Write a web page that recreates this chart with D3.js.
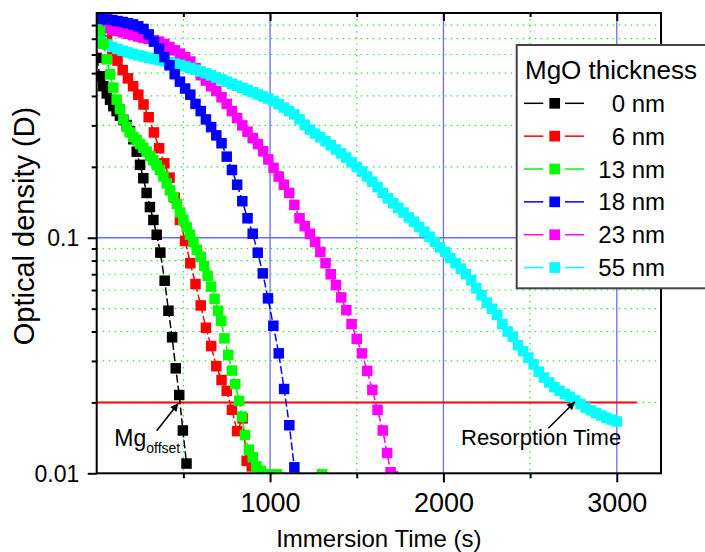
<!DOCTYPE html>
<html><head><meta charset="utf-8">
<script src="https://cdn.jsdelivr.net/npm/d3@7"></script>
<style>body{margin:0;background:#fff}svg{display:block}</style>
</head><body><svg id="c" width="705" height="552"></svg>
<script>
// ---------- data ----------
const timeTicks = [1000, 2000, 3000];
const timeMinor = [500, 1500, 2500];
const odTicks = [0.01, 0.1];
const odTickLabels = ["0.01", "0.1"];
const odMinor = [0.02, 0.03, 0.04, 0.05, 0.06, 0.07, 0.08, 0.09, 0.2, 0.3, 0.4, 0.5, 0.6, 0.7, 0.8];
const seriesLabels = ["0 nm", "6 nm", "13 nm", "18 nm", "23 nm", "55 nm"];
const seriesColors = ["#000000", "#ff0000", "#00ff00", "#0000ff", "#ff00ff", "#00ffff"];
const resorptionLevel = 0.02;
const resorptionEnd = 3115;

const od0nm = [[0,0.58],[19,0.485],[38,0.44],[58,0.41],[77,0.385],[96,0.362],[115,0.345],[134,0.33],[154,0.316],[173,0.301],[192,0.283],[211,0.262],[231,0.232],[250,0.204],[269,0.179],[288,0.155],[307,0.135],[327,0.119],[346,0.103],[367,0.0865],[392,0.0657],[414,0.049],[435,0.0378],[456,0.0279],[476,0.0215],[497,0.0152],[518,0.011]];

const od6nm = [[0,0.86],[30,0.79],[60,0.69],[90,0.62],[120,0.565],[150,0.515],[180,0.475],[210,0.44],[240,0.405],[270,0.368],[300,0.325],[330,0.28],[360,0.24],[390,0.207],[420,0.18],[450,0.148],[480,0.119],[510,0.097],[540,0.078],[570,0.0636],[600,0.0516],[630,0.0415],[660,0.0347],[690,0.0285],[720,0.0249],[750,0.0224],[780,0.0186],[810,0.0151],[842,0.0171],[865,0.0113],[894,0.0107]];

const od13nm = [[0,0.82],[19,0.75],[38,0.667],[58,0.572],[77,0.494],[96,0.434],[115,0.386],[134,0.352],[154,0.318],[173,0.295],[192,0.28],[211,0.268],[231,0.26],[250,0.25],[269,0.241],[288,0.232],[308,0.222],[327,0.213],[346,0.203],[365,0.194],[385,0.182],[404,0.17],[423,0.159],[442,0.149],[462,0.139],[481,0.128],[500,0.119],[519,0.111],[538,0.103],[558,0.096],[577,0.089],[600,0.083],[620,0.076],[640,0.069],[660,0.062],[680,0.055],[700,0.049],[718,0.0444],[737,0.0374],[759,0.0318],[780,0.0273],[799,0.0239],[822,0.0203],[838,0.0174],[855,0.01455],[878,0.0126],[900,0.0117],[921,0.0107],[946,0.01025],[975,0.0099],[1010,0.0099],[1040,0.0099],[1300,0.0099]];

const od18nm = [[0,0.85],[30,0.85],[60,0.845],[90,0.84],[120,0.832],[150,0.824],[180,0.815],[210,0.805],[240,0.79],[270,0.77],[300,0.73],[330,0.68],[360,0.635],[390,0.585],[420,0.54],[450,0.495],[480,0.46],[510,0.43],[540,0.405],[570,0.37],[600,0.345],[630,0.318],[660,0.295],[690,0.272],[720,0.252],[750,0.221],[780,0.194],[810,0.168],[840,0.143],[870,0.121],[900,0.104],[929,0.0864],[958,0.0706],[988,0.0553],[1019,0.0423],[1050,0.0323],[1081,0.0228],[1111,0.016],[1140,0.0106]];

const od23nm = [[0,0.80],[30,0.79],[60,0.775],[90,0.765],[120,0.755],[150,0.745],[180,0.735],[210,0.725],[240,0.715],[270,0.705],[300,0.70],[330,0.69],[360,0.68],[390,0.665],[420,0.645],[450,0.625],[480,0.605],[510,0.585],[540,0.56],[570,0.525],[600,0.49],[630,0.465],[660,0.44],[690,0.42],[720,0.395],[750,0.37],[780,0.345],[810,0.322],[840,0.30],[870,0.282],[900,0.265],[930,0.25],[960,0.233],[990,0.215],[1020,0.198],[1050,0.182],[1080,0.168],[1110,0.155],[1140,0.138],[1170,0.121],[1200,0.112],[1230,0.104],[1260,0.096],[1290,0.087],[1320,0.078],[1350,0.070],[1380,0.063],[1410,0.0558],[1440,0.0493],[1470,0.043],[1500,0.0372],[1530,0.0323],[1560,0.0272],[1590,0.0226],[1620,0.0186],[1650,0.0152],[1675,0.0122],[1695,0.0101],[1710,0.0097]];

const od55nm = [[0,0.700],[30,0.680],[60,0.662],[90,0.646],[120,0.633],[150,0.622],[180,0.612],[210,0.603],[240,0.595],[270,0.588],[300,0.581],[330,0.574],[360,0.568],[390,0.562],[420,0.556],[450,0.549],[480,0.542],[510,0.534],[540,0.526],[570,0.517],[600,0.508],[630,0.499],[660,0.489],[690,0.479],[720,0.470],[750,0.460],[780,0.451],[810,0.442],[840,0.433],[870,0.424],[900,0.415],[930,0.406],[960,0.398],[990,0.390],[1020,0.380],[1050,0.369],[1080,0.357],[1110,0.345],[1140,0.334],[1170,0.318],[1200,0.302],[1230,0.288],[1260,0.277],[1290,0.267],[1320,0.257],[1350,0.247],[1380,0.237],[1410,0.228],[1440,0.219],[1470,0.209],[1500,0.200],[1530,0.191],[1560,0.182],[1590,0.173],[1620,0.164],[1650,0.155],[1680,0.147],[1710,0.140],[1740,0.134],[1770,0.128],[1800,0.122],[1830,0.117],[1860,0.111],[1890,0.106],[1920,0.101],[1950,0.096],[1980,0.091],[2010,0.087],[2040,0.082],[2070,0.078],[2100,0.074],[2130,0.070],[2160,0.066],[2190,0.061],[2220,0.057],[2250,0.053],[2280,0.050],[2310,0.047],[2340,0.043],[2370,0.040],[2400,0.038],[2430,0.035],[2460,0.033],[2490,0.031],[2520,0.029],[2550,0.027],[2580,0.0255],[2610,0.0243],[2640,0.0232],[2670,0.0224],[2700,0.0217],[2730,0.0211],[2760,0.0204],[2790,0.0197],[2820,0.0190],[2850,0.0185],[2880,0.0180],[2910,0.0176],[2940,0.0172],[2970,0.0169],[3000,0.0166]];

const seriesData = [od0nm, od6nm, od13nm, od18nm, od23nm, od55nm];
const drawOrder = [0, 1, 4, 5, 2, 3];

// ---------- layout ----------
const FONT = "'Liberation Sans', Arial, Helvetica, sans-serif";
const L = 96.7, R = 661, T = 13, B = 473.3;
const svg = d3.select("#c").style("font-family", FONT);
svg.append("rect").attr("width", 705).attr("height", 552).attr("fill", "#fff");

const x = d3.scaleLinear().domain([0, 3255]).range([L, R]);
const y = d3.scaleLog().domain([0.01, 0.9]).range([B, T]);

svg.append("defs").append("clipPath").attr("id", "plotclip")
  .append("rect").attr("x", L).attr("y", T).attr("width", R - L).attr("height", B - T);
const defs = svg.select("defs");
defs.append("marker").attr("id", "arrowhead").attr("viewBox", "0 0 10 10")
  .attr("refX", 10).attr("refY", 5).attr("markerWidth", 11).attr("markerHeight", 8)
  .attr("markerUnits", "userSpaceOnUse").attr("orient", "auto")
  .append("path").attr("d", "M0,0 L10,5 L0,10 Z").attr("fill", "#000");

// ---------- grid ----------
const grid = svg.append("g");
grid.selectAll(".hmin").data(odMinor).join("line")
  .attr("x1", L).attr("x2", R).attr("y1", d => y(d)).attr("y2", d => y(d))
  .attr("stroke", "#33e633").attr("stroke-width", 1.2).attr("stroke-dasharray", "1.5,4.5");
grid.selectAll(".vmin").data(timeMinor).join("line")
  .attr("y1", T).attr("y2", B).attr("x1", d => x(d)).attr("x2", d => x(d))
  .attr("stroke", "#33e633").attr("stroke-width", 1.2).attr("stroke-dasharray", "1.5,4.5");
grid.selectAll(".vmaj").data(timeTicks).join("line")
  .attr("y1", T).attr("y2", B).attr("x1", d => x(d)).attr("x2", d => x(d))
  .attr("stroke", "#6b6bff").attr("stroke-width", 1.3);
grid.append("line").attr("x1", L).attr("x2", R).attr("y1", y(0.1)).attr("y2", y(0.1))
  .attr("stroke", "#6b6bff").attr("stroke-width", 1.3);

// resorption threshold
svg.append("line").attr("x1", x(0)).attr("x2", x(resorptionEnd))
  .attr("y1", y(resorptionLevel)).attr("y2", y(resorptionLevel))
  .attr("stroke", "#ff0000").attr("stroke-width", 2);

// ---------- series ----------
const plot = svg.append("g").attr("clip-path", "url(#plotclip)");
const line = d3.line().x(d => x(d[0])).y(d => y(d[1]));
const MS = 10.5;
drawOrder.forEach(i => {
  const g = plot.append("g");
  g.append("path").datum(seriesData[i]).attr("d", line).attr("fill", "none")
    .attr("stroke", seriesColors[i]).attr("stroke-width", 1.5).attr("stroke-dasharray", "8,3");
  g.selectAll("rect").data(seriesData[i]).join("rect")
    .attr("x", d => x(d[0]) - MS / 2).attr("y", d => y(d[1]) - MS / 2)
    .attr("width", MS).attr("height", MS).attr("fill", seriesColors[i]);
});

// ---------- axes ----------
function styleAxis(g) {
  g.select(".domain").remove();
  g.selectAll(".tick line").attr("stroke", "#000").attr("stroke-width", 2);
  g.selectAll("text").attr("fill", "#000").style("font-family", FONT);
}
const bx = svg.append("g").attr("transform", `translate(0,${B})`)
  .call(d3.axisBottom(x).tickValues(timeTicks).tickSize(9).tickFormat(d3.format("d")));
styleAxis(bx);
bx.selectAll("text").attr("y", 38.7).attr("dy", 0).attr("font-size", 27);
const bxm = svg.append("g").attr("transform", `translate(0,${B})`)
  .call(d3.axisBottom(x).tickValues(timeMinor).tickSize(5).tickFormat(""));
styleAxis(bxm);
const tx = svg.append("g").attr("transform", `translate(0,${T})`)
  .call(d3.axisTop(x).tickValues(timeTicks).tickSize(-8).tickFormat(""));
styleAxis(tx);
const txm = svg.append("g").attr("transform", `translate(0,${T})`)
  .call(d3.axisTop(x).tickValues(timeMinor).tickSize(-4).tickFormat(""));
styleAxis(txm);
const ly = svg.append("g").attr("transform", `translate(${L},0)`)
  .call(d3.axisLeft(y).tickValues(odTicks).tickSize(9).tickFormat((d, i) => odTickLabels[i]));
styleAxis(ly);
ly.selectAll("text").attr("x", -17.4).attr("dy", "0.35em").attr("font-size", 23);
const lym = svg.append("g").attr("transform", `translate(${L},0)`)
  .call(d3.axisLeft(y).tickValues(odMinor).tickSize(5).tickFormat(""));
styleAxis(lym);

svg.append("rect").attr("x", L).attr("y", T).attr("width", R - L).attr("height", B - T)
  .attr("fill", "none").attr("stroke", "#000").attr("stroke-width", 2);

// titles
svg.append("text").attr("x", (L + R) / 2).attr("y", 547).attr("text-anchor", "middle")
  .attr("font-size", 24).text("Immersion Time (s)");
svg.append("text").attr("transform", "translate(34,226) rotate(-90)").attr("text-anchor", "middle")
  .attr("font-size", 29).text("Optical density (D)");

// ---------- annotations ----------
svg.append("line").attr("x1", 156.7).attr("y1", 430.7).attr("x2", 178.3).attr("y2", 403.3)
  .attr("stroke", "#000").attr("stroke-width", 1.6).attr("marker-end", "url(#arrowhead)");
const mg = svg.append("text").attr("x", 114.3).attr("y", 446).attr("font-size", 23);
mg.append("tspan").text("Mg");
mg.append("tspan").attr("font-size", 14).attr("dy", 7).text("offset");

svg.append("line").attr("x1", 548.3).attr("y1", 428.3).attr("x2", 575).attr("y2", 401.7)
  .attr("stroke", "#000").attr("stroke-width", 1.6).attr("marker-end", "url(#arrowhead)");
svg.append("text").attr("x", 461).attr("y", 445).attr("font-size", 22).text("Resorption Time");

// ---------- legend ----------
const lg = svg.append("g");
lg.append("rect").attr("x", 516.7).attr("y", 45).attr("width", 200).attr("height", 243.3)
  .attr("fill", "#fff").attr("stroke", "#444").attr("stroke-width", 2);
lg.append("text").attr("x", 525).attr("y", 79).attr("font-size", 26).text("MgO thickness");
seriesLabels.forEach((lab, i) => {
  const cy = 103.3 + i * 32.85;
  lg.append("line").attr("x1", 524).attr("x2", 543.3).attr("y1", cy).attr("y2", cy)
    .attr("stroke", seriesColors[i]).attr("stroke-width", 1.5);
  lg.append("line").attr("x1", 565).attr("x2", 584).attr("y1", cy).attr("y2", cy)
    .attr("stroke", seriesColors[i]).attr("stroke-width", 1.5);
  lg.append("rect").attr("x", 554.7 - 5.35).attr("y", cy - 5.35).attr("width", 10.7).attr("height", 10.7)
    .attr("fill", seriesColors[i]);
  lg.append("text").attr("x", 665).attr("y", cy + 8.5).attr("text-anchor", "end")
    .attr("font-size", 24).text(lab);
});
</script></body></html>
